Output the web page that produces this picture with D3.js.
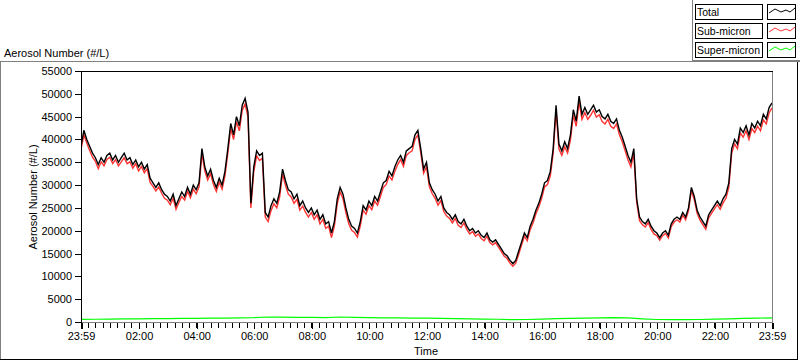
<!DOCTYPE html>
<html>
<head>
<meta charset="utf-8">
<script src="https://cdn.jsdelivr.net/npm/d3@7"></script>
<style>
  html, body { margin: 0; padding: 0; background: #fff; }
  svg { display: block; font-family: "Liberation Sans", Arial, sans-serif; font-size: 11px; }
</style>
</head>
<body>
<div id="chart"></div>
<script>
// start of the record and spacing of samples (minutes)
const startTime = new Date(2000, 0, 1, 23, 59);
const sampleStep = 6;
const superStep = 30;

// Total aerosol number (#/L), one value every 6 minutes from 23:59
const totalValues = [
  38500, 42000, 40000, 38500, 37000, 36000, 34500, 36000, 35000, 36500,
  37000, 35500, 36500, 35000, 36000, 37000, 35500, 36000, 34500, 35500,
  34000, 35000, 33500, 34500, 31500, 30500, 29500, 30500, 29000, 28000,
  27500, 26500, 28000, 25500, 27000, 28500, 27500, 29500, 28000, 30000,
  29000, 30500, 38000, 34000, 32000, 33500, 31000, 29500, 31500, 30000,
  33000, 38000, 43500, 41000, 45000, 43000, 47500, 49000, 46000, 26000,
  34000, 37500, 36500, 37000, 24000, 23000, 25500, 27000, 26000, 28500,
  33500, 31000, 29000, 28500, 27000, 28000, 25500, 26500, 25000, 24000,
  25000, 23500, 24500, 22500, 23500, 21500, 22000, 19500, 22000, 27000,
  29500, 28000, 25000, 22500, 21000, 20500, 19500, 22000, 25500, 24500,
  26500, 25500, 27500, 26500, 28500, 30500, 31000, 33000, 32000, 34000,
  35500, 36500, 35000, 37500, 38000, 38500, 41000, 42000, 38000, 33500,
  35000, 30500, 29000, 28000, 26500, 27500, 25000, 24000, 23500, 22500,
  23500, 22000, 21500, 22500, 21000, 20000, 20500, 19500, 20000, 19000,
  18500, 19500, 18000, 17500, 18000, 17000, 16000, 15000, 14500, 13500,
  12800, 13500, 15500, 17500, 19500, 18500, 21000, 22500, 24500, 26000,
  28000, 30500, 31000, 33000, 38000, 47500, 39000, 37500, 39500, 38000,
  41000, 46500, 44000, 49500, 45500, 47000, 45500, 46500, 47500, 46000,
  46500, 45000, 44500, 45500, 44000, 43500, 44500, 42000, 40500, 38500,
  36500, 35000, 38000, 27000, 23000, 22000, 21500, 22500, 21000, 20000,
  19500, 18500, 19500, 20000, 19000, 21500, 22500, 23000, 22500, 24000,
  23000, 25000, 29500, 27500, 24500, 23000, 22000, 21000, 23500, 24500,
  25500, 26500, 25500, 27000, 28000, 30500, 38000, 40000, 39000, 42500,
  41500, 43000, 41000, 43500, 42500, 44000, 43000, 45500, 44500, 47000,
  48000
];

// Sub-micron number (#/L), same sample times
const subValues = [
  37800, 41000, 39200, 37600, 36100, 35200, 33600, 35100, 34200, 35600,
  36100, 34700, 35600, 34200, 35100, 36000, 34700, 35100, 33700, 34700,
  33100, 34100, 32700, 33600, 30600, 29700, 28700, 29600, 28200, 27100,
  26700, 25700, 27100, 24700, 26200, 27500, 26700, 28600, 27200, 29100,
  28100, 29600, 36900, 33100, 31100, 32500, 30100, 28600, 30600, 29100,
  32000, 37000, 42400, 40000, 43900, 41900, 46400, 47800, 44900, 25000,
  32900, 36400, 35400, 35900, 23000, 22000, 24400, 25900, 25000, 27400,
  32400, 30000, 28000, 27400, 26000, 26900, 24500, 25400, 24000, 23000,
  24000, 22500, 23500, 21500, 22500, 20500, 21000, 18500, 21000, 25900,
  28500, 27000, 24000, 21500, 20100, 19600, 18600, 21000, 24500, 23600,
  25500, 24600, 26500, 25600, 27500, 29500, 30100, 32000, 31100, 33000,
  34500, 35600, 34100, 36500, 37100, 37500, 40000, 41000, 37100, 32600,
  34000, 29600, 28100, 27100, 25600, 26600, 24200, 23200, 22700, 21700,
  22700, 21200, 20700, 21700, 20300, 19300, 19800, 18800, 19300, 18300,
  17800, 18800, 17400, 16900, 17400, 16400, 15400, 14400, 13900, 12900,
  12200, 12900, 14800, 16800, 18800, 17800, 20200, 21700, 23700, 25200,
  27100, 29600, 30100, 32000, 37000, 46300, 37900, 36500, 38400, 37000,
  39900, 45300, 42900, 48300, 44400, 45900, 44400, 45300, 46400, 44900,
  45400, 43900, 43400, 44400, 42900, 42400, 43400, 41000, 39500, 37500,
  35500, 34000, 37000, 26200, 22200, 21300, 20800, 21800, 20300, 19300,
  18900, 17900, 18900, 19400, 18400, 20900, 21900, 22400, 21900, 23400,
  22400, 24400, 28800, 26800, 23800, 22300, 21300, 20300, 22800, 23800,
  24800, 25700, 24700, 26100, 27100, 29500, 37000, 39000, 38000, 41400,
  40500, 41900, 40000, 42400, 41500, 42900, 41900, 44300, 43400, 45800,
  46900
];

// Super-micron number (#/L), one value every 30 minutes
const superValues = [
  550, 600, 650, 700, 700, 750, 750, 800, 800, 850,
  850, 900, 950, 1100, 1050, 1000, 1000, 950, 1100, 1000,
  950, 900, 900, 850, 850, 800, 750, 700, 650, 600,
  500, 550, 650, 750, 800, 850, 900, 950, 900, 700,
  550, 500, 500, 550, 650, 700, 800, 850, 900
];

const seriesNames = ["Total", "Sub-micron", "Super-micron"];
const seriesColors = ["#000000", "#ff3333", "#00ff00"];

const yTickValues = [0, 5000, 10000, 15000, 20000, 25000, 30000, 35000, 40000, 45000, 50000, 55000];
const xTickMinutes = [0, 121, 241, 361, 481, 601, 721, 841, 961, 1081, 1201, 1321, 1440];
const xTickLabels = ["23:59", "02:00", "04:00", "06:00", "08:00", "10:00", "12:00",
                     "14:00", "16:00", "18:00", "20:00", "22:00", "23:59"];

// little zigzag used inside the legend swatches
const swatchShape = [[0, 5], [6, 1], [12, 4], [17, 2], [21, 4], [26, 0]];

const W = 800, H = 361;
const plot = { left: 81, top: 71, right: 772, bottom: 322 };

const minutesLater = m => new Date(startTime.getTime() + m * 60000);

const svg = d3.select('#chart').append('svg')
  .attr('width', W)
  .attr('height', H);

const x = d3.scaleTime()
  .domain([startTime, minutesLater(1440)])
  .range([plot.left, plot.right]);

const y = d3.scaleLinear()
  .domain([0, 55000])
  .range([plot.bottom, plot.top]);

// panel frame (LabVIEW style)
const frame = svg.append('g').attr('shape-rendering', 'crispEdges');
frame.append('line').attr('x1', 0).attr('x2', W).attr('y1', 61.5).attr('y2', 61.5).attr('stroke', '#808080');
frame.append('line').attr('x1', 0.5).attr('x2', 0.5).attr('y1', 61).attr('y2', 359).attr('stroke', '#808080');
frame.append('line').attr('x1', 0).attr('x2', 798).attr('y1', 359.5).attr('y2', 359.5).attr('stroke', '#000');
frame.append('line').attr('x1', 797.5).attr('x2', 797.5).attr('y1', 62).attr('y2', 360).attr('stroke', '#000');
// legend frame
frame.append('line').attr('x1', 692.5).attr('x2', 692.5).attr('y1', 0).attr('y2', 61).attr('stroke', '#808080');
frame.append('line').attr('x1', 692).attr('x2', W).attr('y1', 60.5).attr('y2', 60.5).attr('stroke', '#808080');

// plot frame: black top/left, grey right/bottom
frame.append('line').attr('x1', plot.left).attr('x2', plot.right + 1).attr('y1', plot.top + 0.5).attr('y2', plot.top + 0.5).attr('stroke', '#000');
frame.append('line').attr('x1', plot.left + 0.5).attr('x2', plot.left + 0.5).attr('y1', plot.top).attr('y2', plot.bottom + 1).attr('stroke', '#000');
frame.append('line').attr('x1', plot.right + 0.5).attr('x2', plot.right + 0.5).attr('y1', plot.top + 1).attr('y2', plot.bottom + 1).attr('stroke', '#808080');
frame.append('line').attr('x1', plot.left + 1).attr('x2', plot.right + 1).attr('y1', plot.bottom + 0.5).attr('y2', plot.bottom + 0.5).attr('stroke', '#808080');

// title above the plot
svg.append('text')
  .attr('x', 4)
  .attr('y', 57)
  .attr('fill', '#000')
  .text('Aerosol Number (#/L)');

// Y axis
const yAxis = svg.append('g')
  .attr('transform', `translate(${plot.left},0)`)
  .call(d3.axisLeft(y).tickValues(yTickValues).tickFormat(d3.format('d')).tickSize(6).tickPadding(3));
yAxis.select('.domain').remove();
yAxis.attr('font-family', null).attr('font-size', null);
yAxis.selectAll('.tick line').attr('stroke', '#000').attr('shape-rendering', 'crispEdges');
yAxis.selectAll('.tick text').attr('fill', '#000');

svg.append('text')
  .attr('transform', 'translate(37,197) rotate(-90)')
  .attr('text-anchor', 'middle')
  .attr('fill', '#000')
  .text('Aerosol Number (#/L)');

// X axis: minor ticks every 15 minutes, labelled major ticks
const minorTimes = d3.range(0, 1441, 15).map(minutesLater);
const xMinor = svg.append('g')
  .attr('transform', `translate(0,${plot.bottom + 1})`)
  .call(d3.axisBottom(x).tickValues(minorTimes).tickFormat('').tickSize(5));
xMinor.select('.domain').remove();
xMinor.selectAll('.tick line').attr('stroke', '#000').attr('shape-rendering', 'crispEdges');

const xMajor = svg.append('g')
  .attr('transform', `translate(0,${plot.bottom + 1})`)
  .call(d3.axisBottom(x)
    .tickValues(xTickMinutes.map(minutesLater))
    .tickFormat((d, i) => xTickLabels[i])
    .tickSize(6)
    .tickPadding(3));
xMajor.select('.domain').remove();
xMajor.attr('font-family', null).attr('font-size', null);
xMajor.selectAll('.tick line').attr('stroke', '#000').attr('shape-rendering', 'crispEdges');
xMajor.selectAll('.tick text').attr('fill', '#000');
xMajor.selectAll('.tick line').filter((d, i) => i === 0 || i === xTickMinutes.length - 1)
  .attr('stroke-width', 2);

svg.append('text')
  .attr('x', 426)
  .attr('y', 355)
  .attr('text-anchor', 'middle')
  .attr('fill', '#000')
  .text('Time');

// data lines
svg.append('clipPath').attr('id', 'plot-clip')
  .append('rect')
  .attr('x', plot.left + 1).attr('y', plot.top + 1)
  .attr('width', plot.right - plot.left - 1).attr('height', plot.bottom - plot.top - 1);

const line = d3.line()
  .x(d => x(d.t))
  .y(d => y(d.v));

const toPoints = (vals, step) => vals.map((v, i) => ({ t: minutesLater(i * step), v }));

const series = [
  { pts: toPoints(superValues, superStep), color: seriesColors[2], w: 1.2 },
  { pts: toPoints(subValues, sampleStep), color: seriesColors[1], w: 1.4 },
  { pts: toPoints(totalValues, sampleStep), color: seriesColors[0], w: 1.4 }
];

svg.append('g')
  .attr('clip-path', 'url(#plot-clip)')
  .selectAll('path')
  .data(series)
  .join('path')
  .attr('fill', 'none')
  .attr('stroke', d => d.color)
  .attr('stroke-width', d => d.w)
  .attr('stroke-linejoin', 'miter')
  .attr('d', d => line(d.pts));

// legend
const legend = svg.append('g');
const swatchLine = d3.line();
seriesNames.forEach((name, i) => {
  const top = 4 + i * 19;
  legend.append('rect')
    .attr('x', 695.5).attr('y', top + 0.5)
    .attr('width', 67).attr('height', 15)
    .attr('fill', '#fff').attr('stroke', '#000')
    .attr('shape-rendering', 'crispEdges');
  legend.append('text')
    .attr('x', 697)
    .attr('y', top + 12)
    .attr('fill', '#000')
    .style('font-size', '10.5px')
    .text(name);
  legend.append('rect')
    .attr('x', 767.5).attr('y', top + 0.5)
    .attr('width', 28).attr('height', 15)
    .attr('fill', '#fff').attr('stroke', '#000')
    .attr('shape-rendering', 'crispEdges');
  legend.append('path')
    .attr('transform', `translate(769,${top + 4})`)
    .attr('d', swatchLine(swatchShape))
    .attr('fill', 'none')
    .attr('stroke', seriesColors[i]);
});
</script>
</body>
</html>
